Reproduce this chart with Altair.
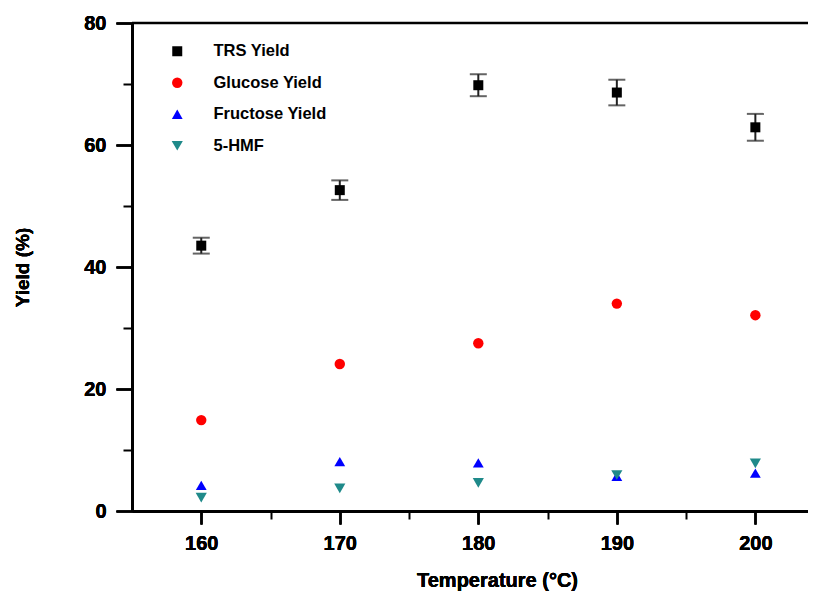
import altair as alt
import pandas as pd

temps = [160, 170, 180, 190, 200]
trs = [43.5, 52.6, 69.8, 68.6, 62.9]
trs_err = [1.3, 1.6, 1.8, 2.1, 2.2]
glucose = [14.9, 24.1, 27.5, 34.0, 32.1]
fructose = [4.2, 8.1, 7.9, 5.7, 6.2]
hmf = [2.2, 3.7, 4.6, 5.9, 7.8]

series_names = ["TRS Yield", "Glucose Yield", "Fructose Yield", "5-HMF"]
series_colors = ["#000000", "#ff0000", "#0000ff", "#1f8a8a"]
series_shapes = ["square", "circle", "triangle-up", "triangle-down"]
series_sizes = [100, 125, 210, 210]

x_major = [160, 170, 180, 190, 200]
x_minor = [165, 175, 185, 195]
y_major = [0, 20, 40, 60, 80]
y_minor = [10, 30, 50, 70]

rows = []
for name, vals in zip(series_names, [trs, glucose, fructose, hmf]):
    for t, v in zip(temps, vals):
        rows.append({"T": t, "Y": v, "series": name})
df = pd.DataFrame(rows)

err_df = pd.DataFrame({
    "T": temps,
    "lo": [v - e for v, e in zip(trs, trs_err)],
    "hi": [v + e for v, e in zip(trs, trs_err)],
})

W, H = 676, 488
FONT = "Liberation Sans"

xscale = alt.Scale(domain=[155, 203.8], nice=False, zero=False)
yscale = alt.Scale(domain=[0, 80], nice=False)

xaxis = alt.Axis(values=x_major, title="Temperature (°C)", grid=False,
                 tickSize=13, tickWidth=2, tickColor="black",
                 domainWidth=2.5, domainColor="black",
                 labelFont=FONT, labelFontSize=20, labelFontWeight="bold",
                 labelColor="black", labelPadding=9, format="d",
                 titleFont=FONT, titleFontSize=20, titleFontWeight="bold",
                 titleColor="black", titleX=365, titleY=75,
                 titleBaseline="alphabetic", titleAlign="center", orient="bottom")
yaxis = alt.Axis(values=y_major, title="Yield (%)", grid=False,
                 tickSize=16, tickWidth=2, tickColor="black",
                 domainWidth=2.5, domainColor="black",
                 labelFont=FONT, labelFontSize=20, labelFontWeight="bold",
                 labelColor="black", labelPadding=10, format="d",
                 titleFont=FONT, titleFontSize=19, titleFontWeight="bold",
                 titleColor="black", titleX=-110, titleY=244,
                 titleAlign="center", titleBaseline="middle", orient="left")

color_scale = alt.Scale(domain=series_names, range=series_colors)
shape_scale = alt.Scale(domain=series_names, range=series_shapes)
size_scale = alt.Scale(domain=series_names, range=series_sizes)

legend = alt.Legend(title=None, orient="none", legendX=37, legendY=20,
                    labelFont=FONT, labelFontSize=16.5, labelFontWeight="bold",
                    labelColor="black", labelOffset=28, rowPadding=14.5,
                    symbolStrokeWidth=0, padding=0)

top_line = alt.Chart(pd.DataFrame({"a": [0]})).mark_rule(
    color="black", strokeWidth=2.5).encode(
    x=alt.value(0), x2=alt.value(W), y=alt.value(0))

err_rule = alt.Chart(err_df).mark_rule(color="#222222", strokeWidth=2).encode(
    x=alt.X("T:Q", scale=xscale, axis=xaxis),
    y=alt.Y("lo:Q", scale=yscale, axis=yaxis),
    y2="hi:Q")

cap_lo = alt.Chart(err_df).mark_tick(orient="horizontal", size=17, thickness=2,
                                     color="#222222").encode(
    x=alt.X("T:Q", scale=xscale, axis=xaxis),
    y=alt.Y("lo:Q", scale=yscale, axis=yaxis))
cap_hi = alt.Chart(err_df).mark_tick(orient="horizontal", size=17, thickness=2,
                                     color="#222222").encode(
    x=alt.X("T:Q", scale=xscale, axis=xaxis),
    y=alt.Y("hi:Q", scale=yscale, axis=yaxis))

points = alt.Chart(df).mark_point(filled=True, opacity=1, strokeWidth=0).encode(
    x=alt.X("T:Q", scale=xscale, axis=xaxis),
    y=alt.Y("Y:Q", scale=yscale, axis=yaxis),
    color=alt.Color("series:N", scale=color_scale, legend=legend),
    shape=alt.Shape("series:N", scale=shape_scale, legend=legend),
    size=alt.Size("series:N", scale=size_scale, legend=legend),
    order=alt.Order("order:Q"),
).transform_calculate(order="indexof(['TRS Yield','Glucose Yield','Fructose Yield','5-HMF'], datum.series)")

minor_df = pd.DataFrame({"T": x_minor, "Y": y_minor})
minor = alt.Chart(minor_df).mark_point(opacity=0).encode(
    x=alt.X("T:Q", scale=xscale,
            axis=alt.Axis(values=x_minor, labels=False, domain=False, grid=False,
                          tickSize=8, tickWidth=2, tickColor="black",
                          title=None, orient="bottom")),
    y=alt.Y("Y:Q", scale=yscale,
            axis=alt.Axis(values=y_minor, labels=False, domain=False, grid=False,
                          tickSize=9, tickWidth=2, tickColor="black",
                          title=None, orient="left")))

chart = alt.layer(top_line, err_rule, cap_lo, cap_hi, points, minor).resolve_axis(
    x="independent", y="independent"
).properties(
    width=W, height=H,
    autosize=alt.AutoSizeParams(type="none"),
    padding={"left": 124, "top": 15, "right": 0, "bottom": 89},
    background="white",
).configure_view(stroke=None)

chart.save("out.html", embed_options={"renderer": "svg", "actions": False})
